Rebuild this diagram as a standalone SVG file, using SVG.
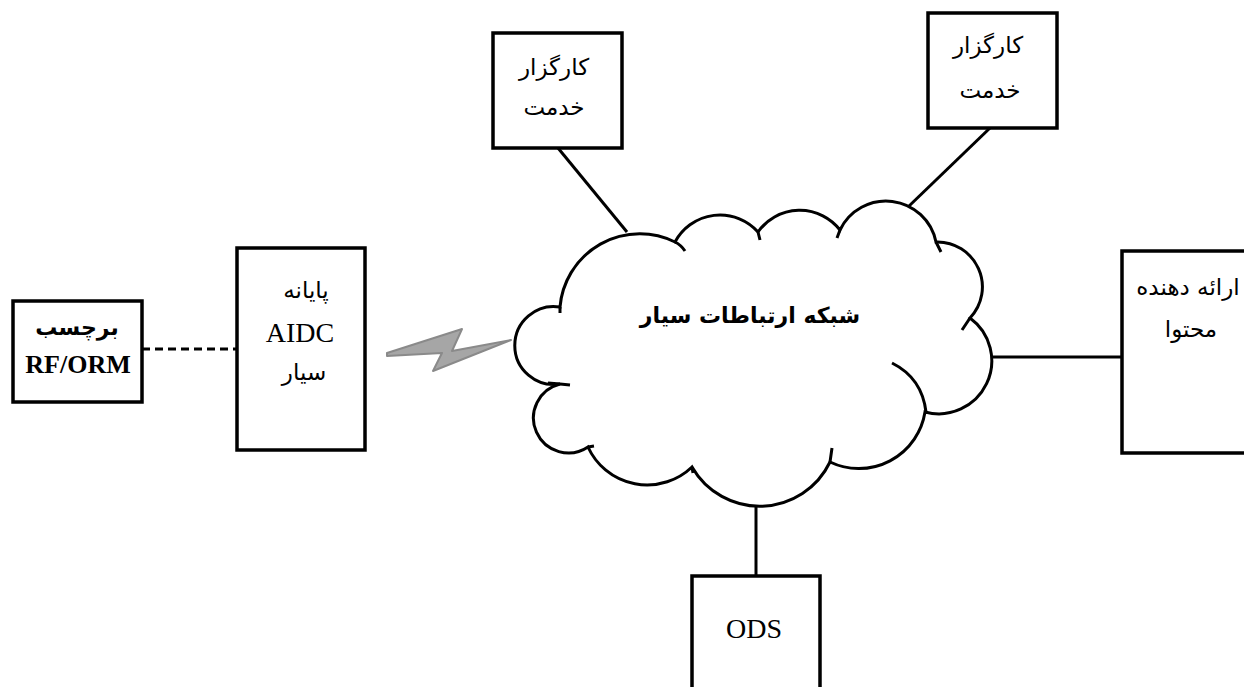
<svg xmlns="http://www.w3.org/2000/svg" width="1244" height="687" viewBox="0 0 1244 687">
<style>
.box{fill:#fff;stroke:#000;stroke-width:3.5}
.ln{stroke:#000;stroke-width:3;fill:none}
.fa{font-family:"DejaVu Sans","Noto Sans",sans-serif;font-size:23px;fill:#000;text-anchor:middle}
.fab{font-family:"DejaVu Sans","Noto Sans",sans-serif;font-size:22px;font-weight:bold;fill:#000;text-anchor:middle}
.la{font-family:"Liberation Serif","Times New Roman",serif;font-size:28px;fill:#000;text-anchor:middle}
.lab{font-family:"Liberation Serif","Times New Roman",serif;font-size:26px;font-weight:bold;fill:#000;text-anchor:middle}
</style>
<rect width="1244" height="687" fill="#fff"/>
<g id="connectors">
<line class="ln" x1="142" y1="349" x2="237" y2="349" stroke-dasharray="8,5"/>
<line class="ln" x1="558" y1="148" x2="627" y2="232"/>
<line class="ln" x1="990" y1="128" x2="908" y2="207"/>
<line class="ln" x1="990" y1="357" x2="1122" y2="357"/>
<line class="ln" x1="756" y1="505" x2="756" y2="576"/>
<polygon points="387,353 462,329 452,351 511,340 433,371 442,353 387,356" fill="#a6a6a6" stroke="#8a8a8a" stroke-width="2" stroke-linejoin="round"/>
</g>
<g id="cloud">
<path d="M560 307 A80 80 0 0 1 675 242 A51 51 0 0 1 758 232 A51 51 0 0 1 840 230 A51 51 0 0 1 936 242 A45 45 0 0 1 970 318 A53 53 0 0 1 925 412 A67 67 0 0 1 830 462 A78 78 0 0 1 692 467 A65 65 0 0 1 588 447 A35 35 0 1 1 560 384 A39 39 0 1 1 560 307 Z" fill="#fff" stroke="#000" stroke-width="3"/>
<path class="ln" d="M675 242 q6 3 10 9 M758 232 l2 8 M840 230 l-3 8 M936 242 l5 10 M970 318 l-8 12 M892 363 Q922 378 926 412 M830 462 l2 -14 M692 467 l1 6 M588 447 l6 -1 M560 384 l10 1 M560 384 l-12 -1 M560 307 l0 6"/>
<text class="fab" x="750" y="323">شبکه ارتباطات سیار</text>
</g>
<g id="tag">
<rect class="box" x="13" y="301" width="129" height="101"/>
<text class="fab" x="77" y="335">برچسب</text>
<text class="lab" x="78" y="373">RF/ORM</text>
</g>
<g id="aidc">
<rect class="box" x="237" y="248" width="128" height="202"/>
<text class="fa" x="306" y="298">پایانه</text>
<text class="la" x="300" y="342">AIDC</text>
<text class="fa" x="304" y="380">سیار</text>
</g>
<g id="broker1">
<rect class="box" x="493" y="33" width="129" height="115"/>
<text class="fa" x="554" y="75">کارگزار</text>
<text class="fa" x="554" y="115">خدمت</text>
</g>
<g id="broker2">
<rect class="box" x="928" y="13" width="129" height="115"/>
<text class="fa" x="988" y="53">کارگزار</text>
<text class="fa" x="990" y="98">خدمت</text>
</g>
<g id="provider">
<rect class="box" x="1122" y="251" width="140" height="202"/>
<text class="fa" x="1188" y="295">ارائه دهنده</text>
<text class="fa" x="1191" y="337">محتوا</text>
</g>
<g id="ods">
<rect class="box" x="692" y="576" width="128" height="130"/>
<text class="la" x="754" y="638">ODS</text>
</g>
</svg>
